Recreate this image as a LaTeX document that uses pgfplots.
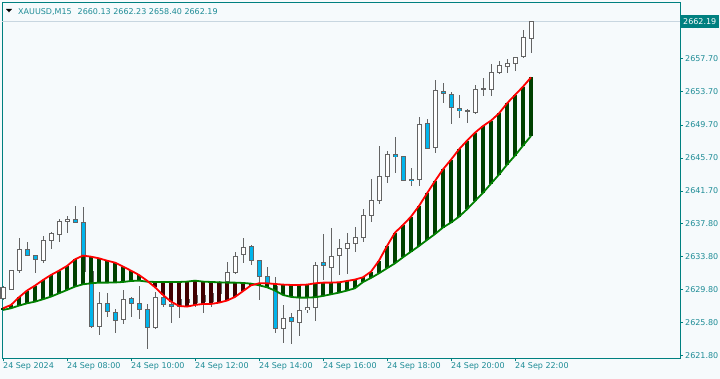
\documentclass[border=0pt]{standalone}
\usepackage{pgfplots}
\usepackage{pgfplotstable}
\pgfplotsset{compat=1.18}
\usepackage{fontspec}
\setmainfont{DejaVu Sans}
\definecolor{bg}{RGB}{246,250,252}
\definecolor{frame}{RGB}{0,128,128}
\definecolor{lbl}{RGB}{30,140,150}
\definecolor{cgray}{RGB}{100,100,100}
\definecolor{bear}{RGB}{0,180,235}
\definecolor{hgreen}{RGB}{0,64,0}
\definecolor{hred}{RGB}{64,0,0}
\definecolor{lred}{RGB}{255,0,0}
\definecolor{lgreen}{RGB}{0,128,0}
\definecolor{pline}{RGB}{200,214,224}

\pgfplotstableread{
i O H L C
0 2628.74 2630.23 2628.50 2630.03
1 2629.83 2632.17 2629.75 2632.05
2 2632.05 2636.00 2631.76 2634.67
3 2634.67 2635.51 2633.94 2633.94
4 2633.94 2634.00 2631.84 2633.46
5 2633.30 2636.28 2632.97 2635.71
6 2635.71 2636.72 2634.71 2636.52
7 2636.48 2638.33 2635.59 2638.05
8 2638.05 2638.70 2636.68 2638.29
9 2638.29 2639.90 2637.81 2637.89
10 2637.93 2639.74 2631.80 2632.00
11 2632.00 2632.30 2625.11 2625.31
12 2625.31 2629.55 2624.31 2628.14
13 2628.14 2629.35 2626.44 2627.13
14 2627.05 2627.41 2624.51 2626.12
15 2626.12 2629.75 2625.60 2628.62
16 2628.74 2628.94 2626.52 2628.14
17 2628.14 2630.23 2626.20 2627.33
18 2627.33 2628.00 2622.58 2625.24
19 2625.24 2629.54 2625.00 2628.86
20 2628.86 2629.50 2627.73 2628.02
21 2628.02 2628.50 2625.80 2627.77
22 2627.80 2629.00 2626.32 2628.60
23 2628.60 2629.40 2627.90 2628.20
24 2628.20 2629.60 2627.70 2629.10
25 2629.10 2629.50 2627.00 2628.40
26 2628.40 2629.80 2627.65 2629.30
27 2629.30 2630.80 2628.60 2630.60
28 2630.75 2633.09 2630.50 2631.88
29 2631.84 2634.30 2631.68 2633.86
30 2633.98 2636.00 2633.05 2634.91
31 2635.07 2635.20 2632.77 2633.30
32 2633.26 2633.40 2628.54 2631.36
33 2631.44 2632.49 2630.23 2630.55
34 2630.15 2631.28 2624.59 2625.11
35 2625.11 2627.93 2623.38 2626.32
36 2626.44 2627.00 2623.22 2625.96
37 2625.80 2628.94 2624.19 2627.25
38 2627.33 2628.94 2626.93 2627.65
39 2627.65 2633.17 2626.04 2632.77
40 2633.10 2636.52 2630.96 2632.65
41 2632.49 2637.20 2629.95 2633.78
42 2633.86 2635.87 2631.56 2634.79
43 2634.79 2636.60 2631.68 2635.39
44 2635.39 2637.33 2634.38 2636.12
45 2636.12 2639.50 2635.59 2638.70
46 2638.70 2643.16 2638.00 2640.60
47 2640.60 2647.15 2640.20 2643.52
48 2643.44 2646.59 2642.64 2646.14
49 2646.14 2648.20 2643.85 2645.86
50 2645.86 2645.90 2642.90 2643.04
51 2643.16 2644.45 2642.31 2643.00
52 2643.12 2650.62 2642.31 2649.77
53 2649.89 2650.38 2646.75 2646.87
54 2646.99 2655.13 2646.34 2653.92
55 2653.80 2654.81 2652.31 2653.52
56 2653.40 2653.70 2649.77 2651.83
57 2651.71 2653.32 2650.50 2651.42
58 2651.40 2651.60 2649.97 2651.50
59 2651.19 2654.53 2651.00 2654.01
60 2654.00 2655.40 2653.20 2654.10
61 2654.01 2657.07 2653.24 2656.06
62 2656.06 2657.47 2655.86 2656.91
63 2656.83 2657.64 2655.94 2657.15
64 2657.15 2657.96 2656.22 2657.88
65 2657.96 2661.18 2657.80 2660.30
66 2660.13 2662.23 2658.40 2662.19
}\candles

\pgfplotstableread{
i R G
0 2627.53 2627.33
1 2627.93 2627.53
2 2628.86 2627.85
3 2629.67 2628.13
4 2630.27 2628.33
5 2630.95 2628.62
6 2631.56 2628.94
7 2632.08 2629.34
8 2632.65 2629.74
9 2633.45 2630.15
10 2633.90 2630.43
11 2633.77 2630.55
12 2633.57 2630.63
13 2633.29 2630.63
14 2633.05 2630.65
15 2632.57 2630.71
16 2632.08 2630.83
17 2631.56 2630.87
18 2630.87 2630.75
19 2630.07 2630.71
20 2629.14 2630.71
21 2628.34 2630.71
22 2627.81 2630.71
23 2627.73 2630.75
24 2627.93 2630.87
25 2628.05 2630.75
26 2628.05 2630.71
27 2628.21 2630.67
28 2628.46 2630.63
29 2628.90 2630.63
30 2629.60 2630.59
31 2630.30 2630.51
32 2630.55 2630.31
33 2630.55 2630.07
34 2630.47 2629.67
35 2630.39 2629.14
36 2630.35 2628.90
37 2630.35 2628.82
38 2630.39 2628.82
39 2630.55 2628.86
40 2630.63 2629.02
41 2630.63 2629.22
42 2630.67 2629.42
43 2630.83 2629.67
44 2631.00 2629.95
45 2631.28 2630.70
46 2631.96 2631.20
47 2633.29 2631.76
48 2635.06 2632.37
49 2636.68 2632.97
50 2637.60 2633.70
51 2638.61 2634.38
52 2639.90 2635.06
53 2641.43 2635.79
54 2642.92 2636.51
55 2644.33 2637.30
56 2645.50 2637.90
57 2646.75 2638.60
58 2647.80 2639.50
59 2648.76 2640.50
60 2649.57 2641.50
61 2650.22 2642.60
62 2651.10 2643.70
63 2652.31 2644.90
64 2653.32 2646.00
65 2654.33 2647.20
66 2655.45 2648.37
}\lines

\begin{document}
\fontsize{8bp}{9.6bp}\selectfont
\begin{tikzpicture}
\path[use as bounding box, fill=bg] (0,0) rectangle (720bp,379bp);
\begin{axis}[
  at={(2bp,20.7bp)}, anchor=south west,
  scale only axis, width=678bp, height=355.6bp,
  xmin=-0.125, xmax=84.625, ymin=2621.48, ymax=2664.48,
  clip=false,
  axis line style={frame, line width=1bp},
  xtick={0,8,16,24,32,40,48,56,64},
  xticklabels={24 Sep 2024,24 Sep 08:00,24 Sep 10:00,24 Sep 12:00,24 Sep 14:00,24 Sep 16:00,24 Sep 18:00,24 Sep 20:00,24 Sep 22:00},
  xtick pos=bottom,
  ytick={2621.8,2625.8,2629.8,2633.8,2637.8,2641.7,2645.7,2649.7,2653.7,2657.7,2661.7},
  ytick pos=right, yticklabel pos=right,
  scaled y ticks=false,
  tick align=outside, major tick length=3bp,
  tick style={frame, line width=0.8bp},
  ticklabel style={text=lbl, font=\fontsize{8bp}{9.6bp}\selectfont},
  xticklabel style={anchor=north west, xshift=-1bp, inner sep=1bp},
  yticklabel style={anchor=west, inner sep=1bp, xshift=1bp,
    /pgf/number format/fixed, /pgf/number format/fixed zerofill,
    /pgf/number format/precision=2, /pgf/number format/1000 sep={}},
  /pgf/number format/assume math mode=true,
  ebar/.style={draw=none, mark=none, error bars/y dir=both, error bars/y explicit, error bars/error mark=none},
]
% current price line
\addplot[pline, line width=0.8bp, mark=none] coordinates {(-0.125,2662.19) (84.625,2662.19)};
% wicks
\addplot[ebar, error bars/error bar style={draw=cgray, line width=1bp}]
  table[x=i, y expr={(\thisrow{H}+\thisrow{L})/2}, y error expr={(\thisrow{H}-\thisrow{L})/2}] {\candles};
% body outlines
\addplot[ebar, error bars/error bar style={draw=cgray, line width=5bp}]
  table[x=i, y expr={(\thisrow{O}+\thisrow{C})/2}, y error expr={abs(\thisrow{C}-\thisrow{O})/2+0.06}] {\candles};
% bullish fill
\addplot[ebar, restrict expr to domain={\thisrow{C}-\thisrow{O}}{0:100},
  error bars/error bar style={draw=white, line width=3bp}]
  table[x=i, y expr={(\thisrow{O}+\thisrow{C})/2}, y error expr={max(abs(\thisrow{C}-\thisrow{O})/2-0.06,0)}] {\candles};
% bearish fill
\addplot[ebar, restrict expr to domain={\thisrow{C}-\thisrow{O}}{-100:-0.00001},
  error bars/error bar style={draw=bear, line width=3bp}]
  table[x=i, y expr={(\thisrow{O}+\thisrow{C})/2}, y error expr={max(abs(\thisrow{C}-\thisrow{O})/2-0.06,0)}] {\candles};
% histogram
\addplot[ebar, restrict expr to domain={\thisrow{R}-\thisrow{G}}{0:100},
  error bars/error bar style={draw=hgreen, line width=4.5bp}]
  table[x=i, y expr={(\thisrow{R}+\thisrow{G})/2}, y error expr={abs(\thisrow{R}-\thisrow{G})/2}] {\lines};
\addplot[ebar, restrict expr to domain={\thisrow{R}-\thisrow{G}}{-100:-0.00001},
  error bars/error bar style={draw=hred, line width=4.5bp}]
  table[x=i, y expr={(\thisrow{R}+\thisrow{G})/2}, y error expr={abs(\thisrow{R}-\thisrow{G})/2}] {\lines};
% lines
\addplot[lgreen, line width=1.8bp, mark=none] table[x=i, y=G] {\lines};
\addplot[lred, line width=1.8bp, mark=none] table[x=i, y=R] {\lines};
% price label
\node[fill=frame, text=white, anchor=west, inner xsep=2.5bp, inner ysep=0pt, minimum height=13.5bp, xshift=0.5bp]
  at (axis cs:84.625,2662.19) {2662.19};
\end{axis}
\fill[black] (6bp,370bp) -- (12bp,370bp) -- (9bp,366.7bp) -- cycle;
\node[anchor=base west, text=lbl, inner sep=0pt] at (18bp,364.7bp) {XAUUSD,M15\hspace{6bp}2660.13 2662.23 2658.40 2662.19};
\end{tikzpicture}
\end{document}
